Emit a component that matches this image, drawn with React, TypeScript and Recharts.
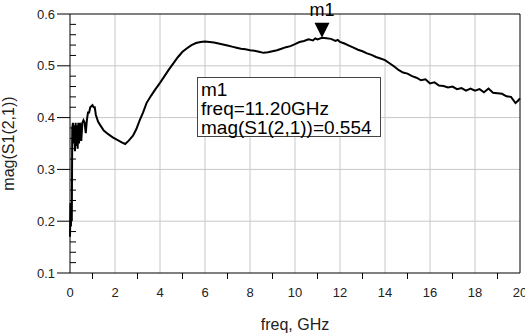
import React from "react";
import { Line, LineChart, ReferenceDot, ReferenceLine, XAxis, YAxis } from "recharts";

// frequency points (GHz) and measured mag(S1(2,1))
const freq = [
  0, 0.02, 0.04, 0.06, 0.08, 0.1, 0.13, 0.16, 0.19, 0.22, 0.25, 0.28, 0.31, 0.34, 0.37, 0.4,
  0.45, 0.5, 0.55, 0.6, 0.65, 0.7, 0.75, 0.8, 0.85, 0.9, 1.0, 1.05, 1.1, 1.15, 1.25, 1.35,
  1.5, 1.7, 1.9, 2.1, 2.3, 2.45, 2.6, 2.8, 2.95, 3.1, 3.25, 3.4, 3.6, 3.8, 4.0, 4.2, 4.4,
  4.6, 4.8, 5.0, 5.2, 5.4, 5.6, 5.8, 6.0, 6.2, 6.4, 6.6, 6.8, 7.0, 7.2, 7.4, 7.6, 7.8, 8.0,
  8.2, 8.4, 8.6, 8.8, 9.0, 9.2, 9.4, 9.6, 9.8, 10.0, 10.2, 10.4, 10.6, 10.8, 10.9, 11.0,
  11.2, 11.4, 11.6, 11.8, 11.9, 12.0, 12.2, 12.4, 12.6, 12.8, 13.0, 13.2, 13.4, 13.6, 13.8,
  14.0, 14.2, 14.4, 14.6, 14.8, 15.0, 15.2, 15.4, 15.6, 15.8, 16.0, 16.2, 16.4, 16.6, 16.8,
  17.0, 17.2, 17.4, 17.6, 17.8, 18.0, 18.2, 18.4, 18.6, 18.8, 19.0, 19.2, 19.4, 19.6, 19.8,
  19.9, 20.0,
];
const magS21 = [
  0.17, 0.235, 0.19, 0.22, 0.2, 0.38, 0.39, 0.35, 0.385, 0.335, 0.39, 0.345, 0.385, 0.34, 0.39,
  0.35, 0.39, 0.355, 0.39, 0.395, 0.39, 0.37, 0.395, 0.41, 0.41, 0.42, 0.424, 0.42, 0.42, 0.405,
  0.392, 0.385, 0.375, 0.368, 0.362, 0.357, 0.352, 0.349, 0.355, 0.365, 0.378, 0.395, 0.41,
  0.428, 0.442, 0.455, 0.467, 0.48, 0.493, 0.505, 0.517, 0.527, 0.534, 0.54, 0.544, 0.546,
  0.547, 0.546, 0.545, 0.543, 0.541, 0.539, 0.537, 0.535, 0.533, 0.532, 0.53, 0.529, 0.527,
  0.525, 0.526, 0.528, 0.53, 0.533, 0.536, 0.538, 0.542, 0.546, 0.548, 0.551, 0.549, 0.553,
  0.551, 0.554, 0.553, 0.552, 0.548, 0.55, 0.546, 0.543, 0.539, 0.535, 0.531, 0.528, 0.524,
  0.521, 0.517, 0.514, 0.511, 0.505, 0.499, 0.492, 0.487, 0.485, 0.48, 0.477, 0.472, 0.474,
  0.466, 0.468, 0.462, 0.461, 0.458, 0.46, 0.455, 0.457, 0.452, 0.456, 0.452, 0.455, 0.449,
  0.456, 0.448, 0.447, 0.446, 0.441, 0.44, 0.428, 0.432, 0.437,
];

const xTicks = [0, 1, 2, 3, 4, 5, 6, 7, 8, 9, 10, 11, 12, 13, 14, 15, 16, 17, 18, 19, 20];
const xGrid = [2, 4, 6, 8, 10, 12, 14, 16, 18];
const yTicks = [
  0.1, 0.12, 0.14, 0.16, 0.18, 0.2, 0.22, 0.24, 0.26, 0.28, 0.3, 0.32, 0.34, 0.36, 0.38, 0.4,
  0.42, 0.44, 0.46, 0.48, 0.5, 0.52, 0.54, 0.56, 0.58, 0.6,
];
const yGrid = [0.2, 0.3, 0.4, 0.5];

const marker = { name: "m1", freq: 11.2, value: 0.554 };

const data = freq.map((f, i) => ({ freq: f, mag: magS21[i] }));

const FONT = "'Liberation Sans', Arial, sans-serif";
const GRID = "#c8c8c8";

function XTick(props: any) {
  const { x, y, payload } = props;
  const v = payload.value;
  if (v % 2 === 1) {
    return <line x1={x} x2={x} y1={y} y2={y + 6} stroke="#000" />;
  }
  return (
    <text x={x} y={y + 24} textAnchor="middle" fontSize={13} fill="#222" fontFamily={FONT}>
      {v}
    </text>
  );
}

function YTick(props: any) {
  const { x, y, payload } = props;
  const v = payload.value;
  const major = Math.round(v * 100) % 10 === 0;
  if (!major) {
    return <line x1={x} x2={x + 6} y1={y} y2={y} stroke="#000" />;
  }
  return (
    <g>
      <line x1={x - 13} x2={x} y1={y} y2={y} stroke="#000" />
      <text x={x - 15} y={y + 4.5} textAnchor="end" fontSize={13} fill="#222" fontFamily={FONT}>
        {v.toFixed(1)}
      </text>
    </g>
  );
}

function MarkerShape(props: any) {
  const { cx, cy } = props;
  return (
    <g>
      <polygon points={`${cx},${cy} ${cx - 7.5},${cy - 15} ${cx + 7.5},${cy - 15}`} fill="#000" />
      <text x={cx} y={cy - 22} textAnchor="middle" fontSize={18} fill="#000" fontFamily={FONT}>
        {marker.name}
      </text>
    </g>
  );
}

export default function App() {
  return (
    <div style={{ position: "absolute", left: 0, top: 0, width: 525, height: 333, background: "#fff" }}>
      <LineChart width={525} height={333} data={data} margin={{ top: 14, right: 5, left: 0, bottom: 0 }}>
        {xGrid.map((v) => (
          <ReferenceLine key={"x" + v} x={v} stroke={GRID} strokeWidth={1} />
        ))}
        {yGrid.map((v) => (
          <ReferenceLine key={"y" + v} y={v} stroke={GRID} strokeWidth={1} />
        ))}
        <ReferenceLine y={0.6} stroke="#000" strokeWidth={1} />
        <ReferenceLine x={20} stroke="#000" strokeWidth={1} />
        <XAxis
          dataKey="freq"
          type="number"
          domain={[0, 20]}
          ticks={xTicks}
          interval={0}
          height={60}
          tickSize={0}
          tickMargin={0}
          tickLine={false}
          axisLine={{ stroke: "#000" }}
          tick={<XTick />}
          label={{ value: "freq, GHz", position: "insideBottom", offset: 3, fontSize: 16, fill: "#222", fontFamily: FONT }}
        />
        <YAxis
          type="number"
          domain={[0.1, 0.6]}
          ticks={yTicks}
          interval={0}
          width={70}
          tickSize={0}
          tickMargin={0}
          tickLine={false}
          axisLine={{ stroke: "#000" }}
          tick={<YTick />}
          label={{ value: "mag(S1(2,1))", angle: -90, position: "insideLeft", offset: 8, fontSize: 16, fill: "#222", fontFamily: FONT, style: { textAnchor: "middle" } }}
        />
        <Line
          dataKey="mag"
          type="linear"
          stroke="#000"
          strokeWidth={2}
          dot={false}
          isAnimationActive={false}
        />
        <ReferenceDot x={marker.freq} y={marker.value} shape={<MarkerShape />} />
      </LineChart>
      <div
        style={{
          position: "absolute",
          left: 197,
          top: 77,
          width: 184,
          height: 60,
          border: "1px solid #444",
          background: "#fff",
          fontFamily: FONT,
          fontSize: 19,
          lineHeight: "19px",
          paddingLeft: 3,
          paddingTop: 2,
          boxSizing: "border-box",
          color: "#000",
          whiteSpace: "nowrap",
        }}
      >
        <div>m1</div>
        <div>freq=11.20GHz</div>
        <div>mag(S1(2,1))=0.554</div>
      </div>
    </div>
  );
}
